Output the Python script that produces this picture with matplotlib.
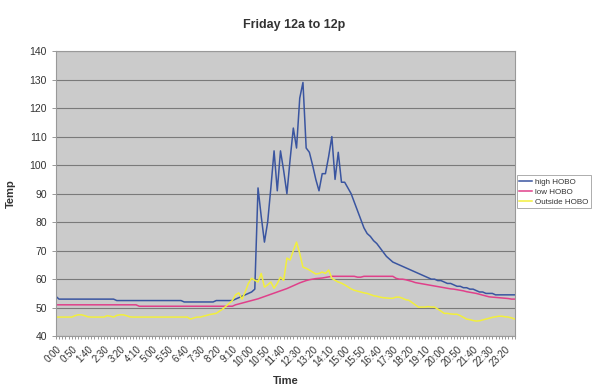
import numpy as np
import matplotlib.pyplot as plt

plt.rcParams['font.family'] = ['Liberation Sans', 'DejaVu Sans']

# 10-minute readings, 0:00 .. 23:50
times = ['%d:%02d' % (m // 60, m % 60) for m in range(0, 24 * 60, 10)]

high_hobo = [54] + [53] * 18 + [52.5] * 21 + [52] * 10 + [52.5] * 6 + [
    53, 53.5, 54, 54.5, 55, 55.5, 56.5,
    92, 82, 73, 80, 92, 105, 91, 105, 98, 90, 102, 113, 106, 123.5, 129,
    106, 104.5, 100, 95, 91, 97, 97, 103, 110, 95, 104.5, 94, 94,
    92, 90, 87, 84, 81, 78, 76, 75, 73.5, 72.5, 71, 69.5, 68, 67, 66,
    65.5, 65, 64.5, 64, 63.5, 63, 62.5, 62, 61.5, 61, 60.5, 60, 60,
    59.5, 59.5, 59, 58.5, 58.5, 58, 57.5, 57.5, 57, 57, 56.5, 56.5, 56,
    55.5, 55.5, 55, 55, 55, 54.5, 54.5, 54.5, 54.5, 54.5, 54.5, 54.5]

low_hobo = [51] * 26 + [50.5] * 30 + [
    51, 51.3, 51.6, 51.9, 52.2, 52.5, 52.8, 53.1, 53.5, 53.9, 54.3, 54.7,
    55.1, 55.5, 55.9, 56.3, 56.7, 57.2, 57.7, 58.2, 58.7, 59.1, 59.5, 59.8,
    60, 60.2, 60.3, 60.4, 60.6, 60.8, 61,
    61, 61, 61, 61, 61, 61, 61, 60.7, 60.7, 61, 61, 61, 61, 61, 61, 61,
    61, 61, 61,
    60.3, 60, 60, 59.8, 59.5, 59.2, 58.8, 58.6, 58.4, 58.2, 58, 57.8, 57.6,
    57.4, 57.2, 57, 56.8, 56.6, 56.5, 56.3, 56.1, 55.9, 55.6, 55.4, 55.2,
    55, 54.7, 54.4, 54.1, 53.8, 53.7, 53.6, 53.5, 53.4, 53.3, 53.2, 53, 53]

outside_hobo = [46.7] * 6 + [47.2, 47.5, 47.5, 47.2, 46.8] + [46.7] * 5 + [
    47.2, 47, 46.7, 47.3, 47.5, 47.5, 47.2, 46.8] + [46.7] * 18 + [
    46, 46.4, 46.7, 46.7,
    47, 47.3, 47.6, 47.8, 48, 48.8, 49.5, 50.5, 51.5, 52.5, 54.5, 55.2, 53,
    55.5, 58.5, 60.3, 59.6, 59, 62, 57.2, 58, 59, 56.8, 58.5, 60.7, 59.6,
    67.4, 66.7, 70, 73, 69, 64.2, 63.8, 63.2, 62.5, 61.8, 62, 62.5, 62,
    63.2, 60.3, 59.6, 59, 58.6, 58, 57.3, 56.6, 56.1, 55.8, 55.5, 55.2, 55,
    54.6, 54.2, 54, 53.7, 53.5, 53.4, 53.3, 53.3, 53.7, 53.7, 53.3, 52.8,
    52.6, 51.8, 51, 50.2, 50.2, 50.2, 50.4, 50.2, 50.2, 49.5, 48.8, 48, 48,
    47.8, 47.7, 47.7, 47.2, 46.6, 46, 45.8, 45.5, 45.3, 45.4, 45.7, 46,
    46.3, 46.6, 46.8, 47, 47, 46.8, 46.7, 46.4, 46]

x = np.arange(len(times))

fig = plt.figure(figsize=(6, 3.9), dpi=100)
ax = fig.add_axes([0.093, 0.138, 0.765, 0.731])
ax.set_facecolor('#cbcbcb')

ax.plot(x, high_hobo, color='#3a55a0', lw=1.1, label='high HOBO')
ax.plot(x, low_hobo, color='#e0408a', lw=1.1, label='low HOBO')
ax.plot(x, outside_hobo, color='#f2ef3c', lw=1.1, label='Outside HOBO')

ax.set_xlim(0, len(times) - 1)
ax.set_ylim(40, 140)
ax.set_yticks(np.arange(40, 141, 10))
ax.yaxis.grid(True, color='#7a7a7a', lw=0.8)
ax.set_axisbelow(True)

ax.set_xticks(x[::5])
ax.set_xticklabels(times[::5], rotation=45, ha='right', rotation_mode='anchor')
ax.set_xticks(x, minor=True)
ax.tick_params(axis='x', which='both', length=2.5, width=0.6, colors='#888888',
               labelcolor='#333333', labelsize=7, pad=3)
ax.tick_params(axis='y', length=3, width=0.6, colors='#888888',
               labelcolor='#333333', labelsize=7.5)
for s in ax.spines.values():
    s.set_color('#999999')
    s.set_linewidth(0.8)

ax.set_xlabel('Time', fontsize=8, fontweight='bold', color='#333333', labelpad=6)
ax.set_ylabel('Temp', fontsize=8, fontweight='bold', color='#333333', labelpad=10)
fig.text(0.49, 0.935, 'Friday 12a to 12p', ha='center', va='center',
         fontsize=9, fontweight='bold', color='#333333')

leg = ax.legend(loc='upper left', bbox_to_anchor=(1.004, 0.565), fontsize=5.8,
                frameon=True, fancybox=False, borderpad=0.35, handlelength=1.6,
                labelspacing=0.3, handletextpad=0.3, borderaxespad=0)
leg.get_frame().set_edgecolor('#888888')
leg.get_frame().set_linewidth(0.6)
for t in leg.get_texts():
    t.set_color('#333333')

fig.savefig('out.png', dpi=100)
